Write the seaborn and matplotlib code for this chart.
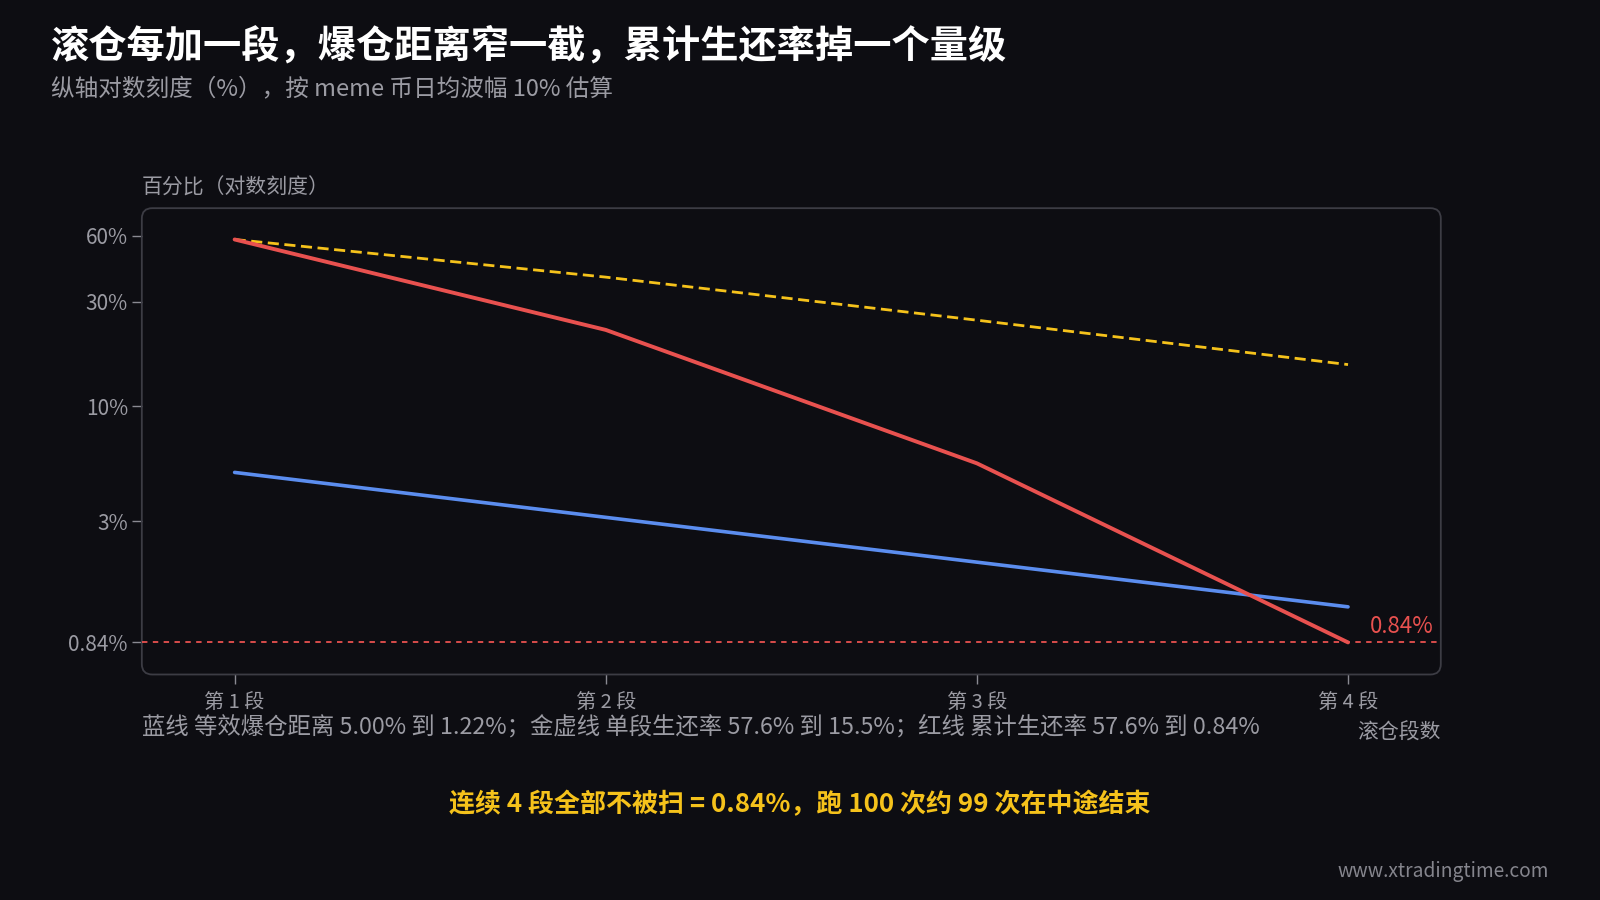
import matplotlib
matplotlib.use("Agg")
import matplotlib.pyplot as plt
import seaborn as sns
import pandas as pd
from matplotlib.patches import FancyBboxPatch
from matplotlib.ticker import FixedLocator, NullLocator

stages = ["第 1 段", "第 2 段", "第 3 段", "第 4 段"]
blue_distance = [5.00, 3.12, 1.95, 1.22]
gold_single = [57.6, 38.8, 24.7, 15.5]
red_cumulative = [57.6, 22.3, 5.5, 0.84]
y_ticks = [0.84, 3, 10, 30, 60]
y_tick_labels = ["0.84%", "3%", "10%", "30%", "60%"]

BG = "#0d0d12"
GRAY = "#9b9ba3"
RED = "#e8514f"
BLUE = "#5b8def"
GOLD = "#f5c21b"

sns.set_theme(style="dark")
plt.rcParams["font.family"] = ["Noto Sans CJK SC", "DejaVu Sans"]
plt.rcParams["axes.unicode_minus"] = False

W, H = 1568.0, 882.0
fig = plt.figure(figsize=(16, 9), dpi=100, facecolor=BG)
ax = fig.add_axes([139 / W, 1 - 661 / H, (1412 - 139) / W, (661 - 204) / H])
ax.set_facecolor(BG)

xs = list(range(len(stages)))
df = pd.concat([
    pd.DataFrame({"x": xs, "v": blue_distance, "s": "blue"}),
    pd.DataFrame({"x": xs, "v": gold_single, "s": "gold"}),
    pd.DataFrame({"x": xs, "v": red_cumulative, "s": "red"}),
])

ax.set_yscale("log")
ax.axhline(red_cumulative[-1], color=RED, lw=1.3, ls=(0, (3, 3)), zorder=2)
sns.lineplot(data=df[df.s == "blue"], x="x", y="v", color=BLUE, lw=2.6, ax=ax, zorder=3)
sns.lineplot(data=df[df.s == "gold"], x="x", y="v", color=GOLD, lw=2.0, ax=ax, zorder=3,
             dashes=False, linestyle=(0, (4, 2)))
sns.lineplot(data=df[df.s == "red"], x="x", y="v", color=RED, lw=2.8, ax=ax, zorder=4)

ax.set_xlim(-0.25, 3.25)
ax.set_ylim(0.60, 80)
ax.yaxis.set_major_locator(FixedLocator(y_ticks))
ax.yaxis.set_minor_locator(NullLocator())
ax.set_yticklabels(y_tick_labels)
ax.set_xticks(xs)
ax.set_xticklabels(stages)
ax.set_xlabel("")
ax.set_ylabel("")
ax.grid(False)
for sp in ax.spines.values():
    sp.set_visible(False)
ax.tick_params(axis="both", colors="#8a8a92", labelcolor=GRAY,
               length=7, width=1, direction="out", left=True, bottom=True)
ax.tick_params(axis="y", labelsize=15, pad=3)
ax.tick_params(axis="x", labelsize=14.5, pad=6)

frame = FancyBboxPatch((0, 0), 1, 1, boxstyle="round,pad=0,rounding_size=0.008",
                       transform=ax.transAxes, facecolor="none", edgecolor="#3c3c44",
                       lw=1.3, clip_on=False, zorder=1, mutation_aspect=(1273 / 457))
ax.add_patch(frame)

ax.text(3.23, red_cumulative[-1] * 1.05, "0.84%", color=RED, fontsize=16,
        ha="right", va="bottom")

def fy(y):
    return 1 - y / H

def fx(x):
    return x / W

fig.text(fx(50), fy(45), "滚仓每加一段，爆仓距离窄一截，累计生还率掉一个量级",
         color="white", fontsize=27.5, fontweight="bold", ha="left", va="center")
fig.text(fx(50), fy(88), "纵轴对数刻度（%），按 meme 币日均波幅 10% 估算",
         color=GRAY, fontsize=17, ha="left", va="center")
fig.text(fx(139), fy(184), "百分比（对数刻度）", color=GRAY, fontsize=15,
         ha="left", va="center")
fig.text(fx(1412), fy(718), "滚仓段数", color=GRAY, fontsize=15,
         ha="right", va="center")
fig.text(fx(139), fy(712),
         "蓝线 等效爆仓距离 5.00% 到 1.22%；金虚线 单段生还率 57.6% 到 15.5%；红线 累计生还率 57.6% 到 0.84%",
         color=GRAY, fontsize=16.8, ha="left", va="center")
fig.text(fx(784), fy(789), "连续 4 段全部不被扫 = 0.84%，跑 100 次约 99 次在中途结束",
         color=GOLD, fontsize=18.7, fontweight="bold", ha="center", va="center")
fig.text(fx(1518), fy(854), "www.xtradingtime.com", color="#85858d", fontsize=13.8,
         ha="right", va="center")

fig.savefig("out.png", dpi=100, facecolor=BG)
